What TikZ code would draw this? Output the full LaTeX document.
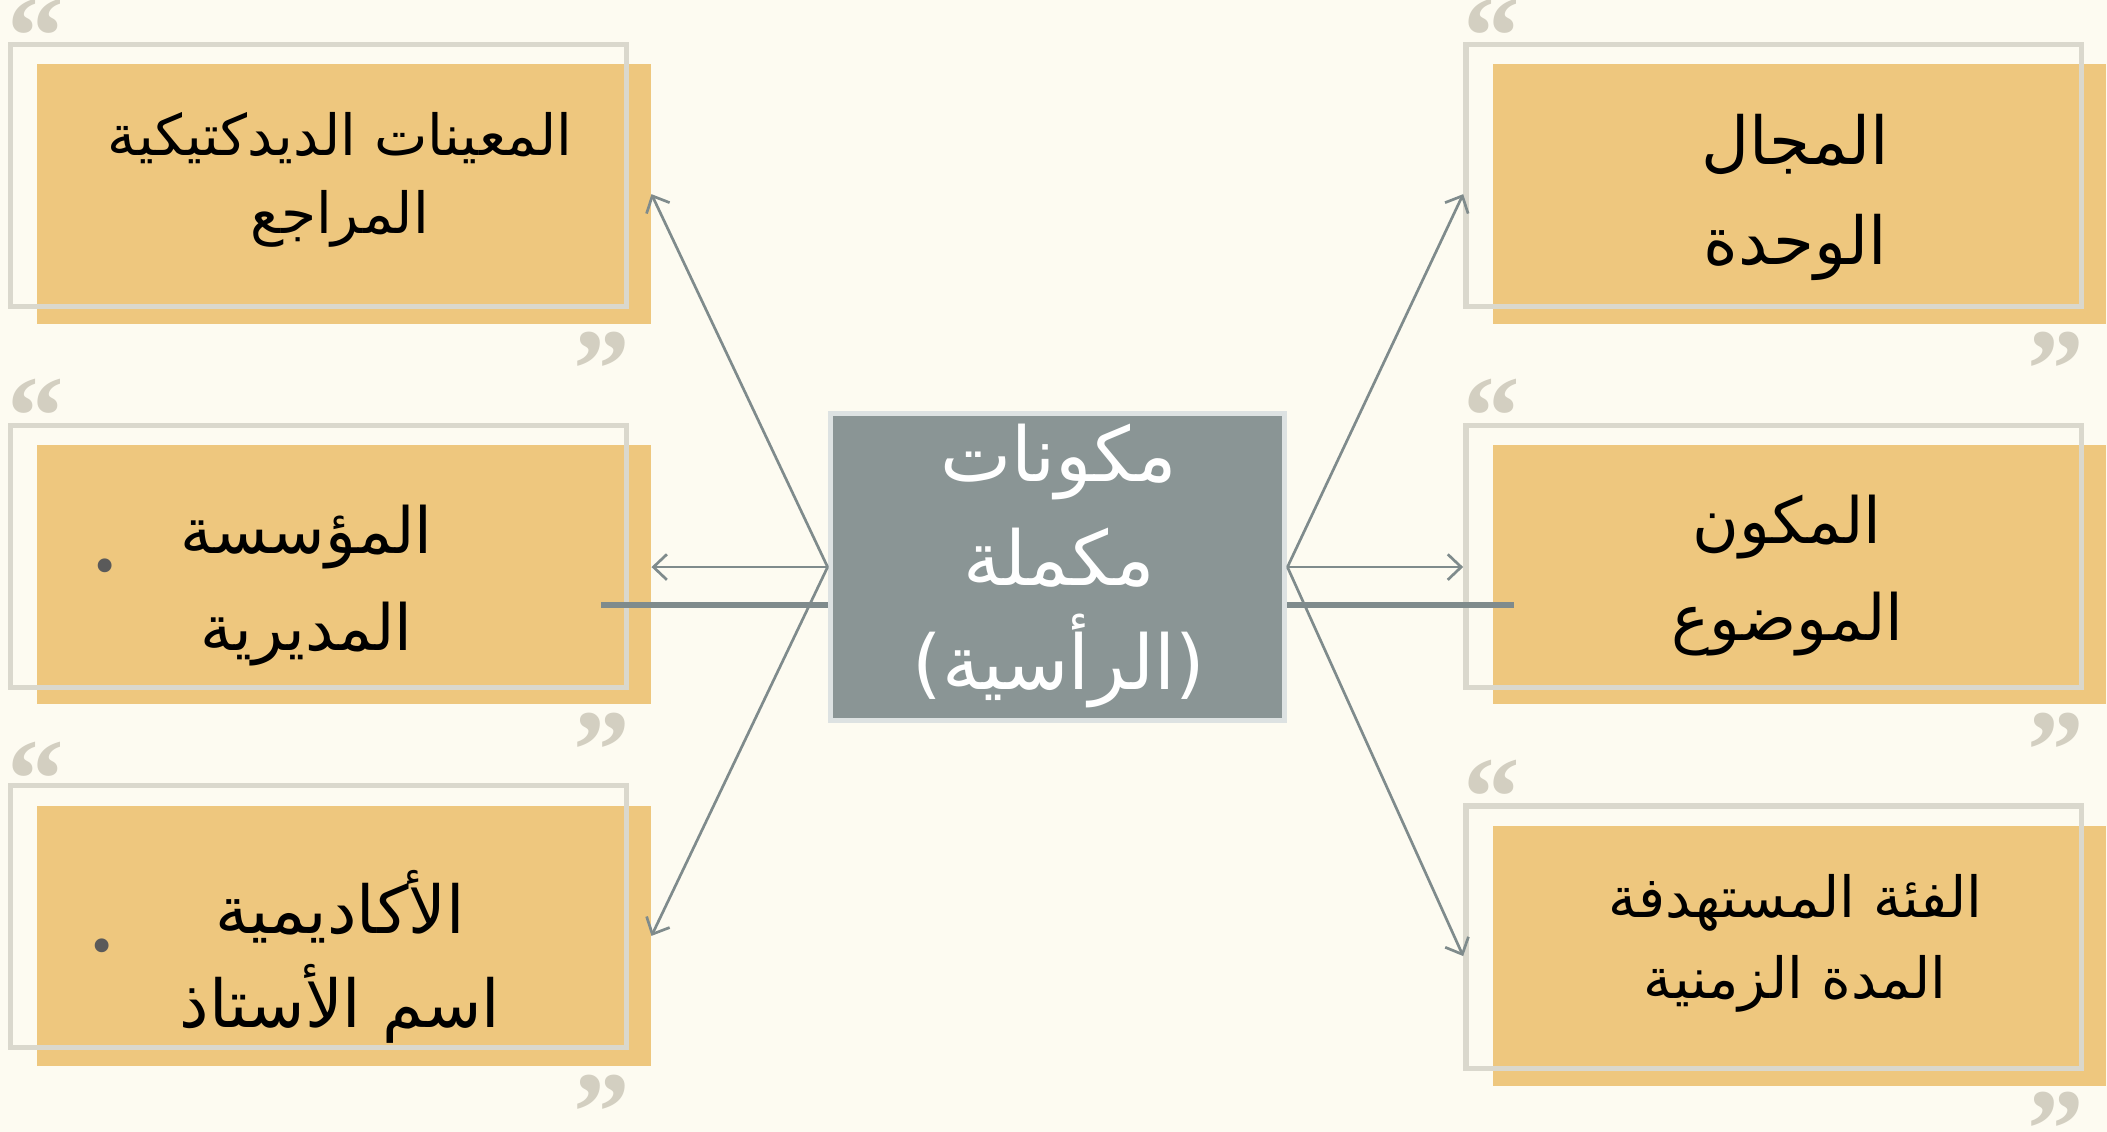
\documentclass[tikz,border=0pt]{standalone}
\usepackage{fontspec}
\usetikzlibrary{arrows.meta,calc}
\newfontfamily\arabicfont[Script=Arabic]{DejaVu Sans}
\newfontfamily\quotefont{Liberation Serif}
\TeXXeTstate=1
\definecolor{bgc}{HTML}{FDFBF1}
\definecolor{goldc}{HTML}{EEC77E}
\definecolor{framec}{HTML}{DAD8CD}
\definecolor{slatec}{HTML}{8A9595}
\definecolor{slateborder}{HTML}{DDE2E2}
\definecolor{linec}{HTML}{7F8B8C}
\definecolor{quotec}{HTML}{D3CFC1}
\definecolor{dotc}{HTML}{5A5A5A}
\tikzset{
  goldbox/.style={fill=goldc, draw=none, minimum width=4.56cm, minimum height=1.93cm, inner sep=0pt},
  framebox/.style={draw=framec, line width=0.04cm, minimum width=4.58cm, minimum height=1.95cm, inner sep=0pt},
  centerbox/.style={fill=slatec, draw=slateborder, line width=0.04cm, minimum width=3.38cm, minimum height=2.28cm, inner sep=0pt},
  label/.style={align=center, text=black, font=\arabicfont},
  quotemark/.style={text=quotec, font=\quotefont\bfseries\fontsize{24}{24}\selectfont, inner sep=0pt, text height=16pt, text depth=-9pt},
  conn/.style={draw=linec, line width=0.02cm, -{Straight Barb[length=0.1cm,width=0.19cm,line width=0.02cm]}},
  thickline/.style={draw=linec, line width=0.042cm},
  dotmark/.style={text=dotc, font=\quotefont\bfseries\fontsize{18}{18}\selectfont, inner sep=0pt}
}
\begin{document}
\begin{tikzpicture}[x=0.01cm,y=-0.01cm]
\useasboundingbox (0,0) rectangle (1568,842.4);
\fill[bgc] (0,0) rectangle (1568,842.4);

% orange boxes
\node[goldbox] (lt) at (256,144.5) {};
\node[goldbox] (lm) at (256,427.5) {};
\node[goldbox] (lb) at (256,696.5) {};
\node[goldbox] (rt) at (1339,144.5) {};
\node[goldbox] (rm) at (1339,427.5) {};
\node[goldbox] (rb) at (1339,711.5) {};

% frames
\node[framebox] (ltf) at (237,130.5) {};
\node[framebox] (lmf) at (237,414) {};
\node[framebox] (lbf) at (237,682) {};
\node[framebox] (rtf) at (1320,130.5) {};
\node[framebox] (rmf) at (1320,414) {};
\node[framebox] (rbf) at (1320,697.5) {};

% quote marks
\node[quotemark] (q1) at (27,27) {“};
\node[quotemark] (q2) at (448,275) {”};
\node[quotemark] (q3) at (27,310) {“};
\node[quotemark] (q4) at (448,559) {”};
\node[quotemark] (q5) at (27,580) {“};
\node[quotemark] (q6) at (448,828) {”};
\node[quotemark] (q7) at (1110,27) {“};
\node[quotemark] (q8) at (1530,275) {”};
\node[quotemark] (q9) at (1110,310) {“};
\node[quotemark] (q10) at (1530,559) {”};
\node[quotemark] (q11) at (1110,594) {“};
\node[quotemark] (q12) at (1530,841) {”};

% central box
\node[centerbox] (c) at (787,422) {};

% thick horizontal lines
\coordinate (tl) at (447,450);
\coordinate (tr) at (1127,450);
\draw[thickline] (c.west |- tl) -- (tl);
\draw[thickline] (c.east |- tr) -- (tr);

% connectors
\draw[conn] (c.west) -- (lt.east);
\draw[conn] (c.west) -- (c.west -| lm.east);
\draw[conn] (c.west) -- (lb.east);
\draw[conn] (c.east) -- (rtf.west |- rt.west);
\draw[conn] (c.east) -- (c.east -| rmf.west);
\draw[conn] (c.east) -- (rbf.west |- rb.west);

% texts
\node[label, font=\arabicfont\fontsize{12}{16.5}\selectfont] (tlt) at (253,134) {\beginR المعينات الديدكتيكية\endR\\\beginR المراجع\endR};
\node[label, font=\arabicfont\fontsize{13.5}{20.5}\selectfont] (tlm) at (228,436) {\beginR المؤسسة\endR\\\beginR المديرية\endR};
\node[label, font=\arabicfont\fontsize{14}{20}\selectfont] (tlb) at (253,712) {\beginR الأكاديمية\endR\\\beginR اسم الأستاذ\endR};
\node[label, font=\arabicfont\fontsize{14}{21}\selectfont] (trt) at (1336,147) {\beginR المجال\endR\\\beginR الوحدة\endR};
\node[label, font=\arabicfont\fontsize{13.5}{20.5}\selectfont] (trm) at (1330,428) {\beginR المكون\endR\\\beginR الموضوع\endR};
\node[label, font=\arabicfont\fontsize{12}{17}\selectfont] (trb) at (1336,702) {\beginR الفئة المستهدفة\endR\\\beginR المدة الزمنية\endR};
\node[label, text=white, font=\arabicfont\fontsize{16}{22}\selectfont] (tc) at (788,421) {\beginR مكونات\endR\\\beginR مكملة\endR\\\beginR (الرأسية)\endR};

% dots
\node[dotmark] (d1) at (78,421) {.};
\node[dotmark] (d2) at (76,704) {.};
\end{tikzpicture}
\end{document}
